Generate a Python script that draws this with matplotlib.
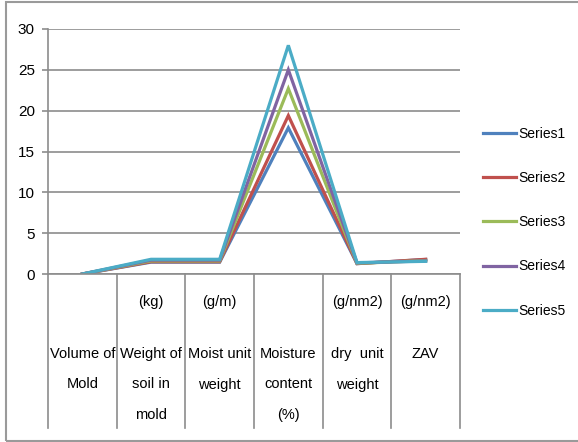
import matplotlib.pyplot as plt
from matplotlib.patches import Rectangle

plt.rcParams["font.family"] = ["Liberation Sans", "DejaVu Sans"]

categories = ["Volume of\nMold", "Weight of\nsoil in\nmold", "Moist unit\nweight",
              "Moisture\ncontent\n(%)", "dry  unit\nweight", "ZAV"]
units = ["", "(kg)", "(g/m)", "", "(g/nm2)", "(g/nm2)"]

series_names = ["Series1", "Series2", "Series3", "Series4", "Series5"]
series1 = [0.0, 1.45, 1.45, 17.9, 1.27, 1.78]
series2 = [0.0, 1.5, 1.5, 19.4, 1.27, 1.8]
series3 = [0.0, 1.6, 1.6, 22.7, 1.3, 1.65]
series4 = [0.0, 1.7, 1.7, 25.0, 1.36, 1.6]
series5 = [0.0, 1.8, 1.8, 28.0, 1.4, 1.55]
colors = ["#4F81BD", "#C0504D", "#9BBB59", "#8064A2", "#4BACC6"]

W, H = 578, 442
fig = plt.figure(figsize=(W / 100, H / 100), dpi=100)

# plot area in pixel terms
left, right, top, bottom = 48, 460, 29, 274
ax = fig.add_axes([left / W, 1 - bottom / H, (right - left) / W, (bottom - top) / H])

x = [i + 0.5 for i in range(len(categories))]
for vals, name, c in zip([series1, series2, series3, series4, series5], series_names, colors):
    ax.plot(x, vals, color=c, lw=2.3, label=name, solid_joinstyle="miter")

ax.set_xlim(0, len(categories))
ax.set_ylim(0, 30)
ax.set_yticks(range(0, 31, 5))
ax.grid(axis="y", color="#8c8c8c", lw=1.2)
ax.set_axisbelow(True)
ax.set_xticks([])
ax.tick_params(axis="y", length=4.5, color="#8c8c8c", width=1.2, labelsize=11, pad=5)
for s in ["top", "right"]:
    ax.spines[s].set_visible(False)
for s in ["left", "bottom"]:
    ax.spines[s].set_color("#8c8c8c")
    ax.spines[s].set_linewidth(1.2)

# category boundary lines running down through the label table
trans = ax.get_xaxis_transform()
depth = -(428 - bottom) / (bottom - top)
for i in range(len(categories) + 1):
    ax.plot([i, i], [0, depth], color="#8c8c8c", lw=1.2, transform=trans, clip_on=False)

# category labels
unit_y = -(302 - bottom) / (bottom - top)
label_y = -(347 - bottom) / (bottom - top)
for xi, cat, u in zip(x, categories, units):
    if u:
        ax.text(xi, unit_y, u, transform=trans, ha="center", va="center", fontsize=10.5)
    ax.text(xi, label_y, cat, transform=trans, ha="center", va="top", fontsize=10.5,
            linespacing=2.5)

fig.legend(loc="upper left", bbox_to_anchor=(483 / W, 1 - 127 / H), frameon=False,
           fontsize=10, handlelength=2.4, handletextpad=0.15, labelspacing=2.17,
           borderpad=0, borderaxespad=0)

# outer chart frame
fig.patches.append(Rectangle((6 / W, 1 - 441 / H), 1.2, (441 - 2) / H, transform=fig.transFigure,
                             fill=False, edgecolor="#9a9a9a", lw=1.5))

fig.savefig("out.png", dpi=100)
